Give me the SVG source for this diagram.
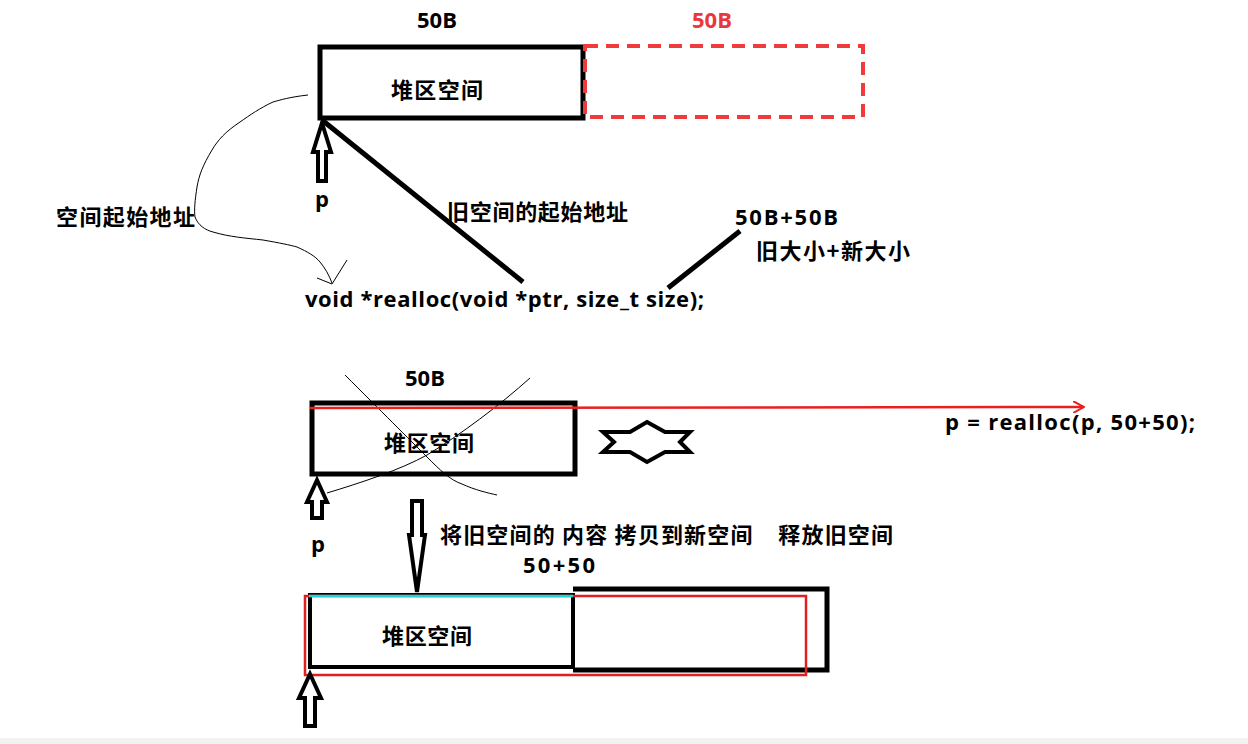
<svg xmlns="http://www.w3.org/2000/svg" width="1248" height="744" viewBox="0 0 1248 744">
<style>
.t{font-family:"Open Sans","Noto Sans CJK SC",sans-serif;font-weight:bold;font-size:22px;fill:#000}
.c{font-family:"Noto Sans CJK SC",sans-serif;font-weight:bold;font-size:22px;fill:#000;white-space:pre}
.red{fill:#e8383d}
.box{fill:none;stroke:#000;stroke-width:5}
.thin{fill:none;stroke:#000;stroke-width:1}
.hollow{fill:#fff;stroke:#000;stroke-width:4;stroke-linejoin:miter}
.thick{stroke:#000;stroke-width:5;fill:none}
</style>
<defs>
<marker id="ra" viewBox="0 0 12 12" refX="11" refY="6" markerWidth="12" markerHeight="12" markerUnits="userSpaceOnUse" orient="auto">
<path d="M0,0 L11,6 L0,12" fill="none" stroke="#e8201e" stroke-width="2"/>
</marker>
</defs>
<rect x="0" y="0" width="1248" height="744" fill="#fff"/>
<rect x="0" y="738" width="1248" height="6" fill="#f2f2f2"/>

<g id="top-block">
<text class="t" x="437" y="28" text-anchor="middle">50B</text>
<rect class="box" x="320" y="47" width="263" height="71"/>
<text class="c" x="437" y="98" text-anchor="middle" textLength="92">堆区空间</text>
</g>
<g id="top-extra">
<text class="t red" x="712" y="28" text-anchor="middle">50B</text>
<rect x="585" y="46" width="278" height="71" fill="none" stroke="#ef3b3b" stroke-width="4" stroke-dasharray="13,8"/>
</g>
<g id="top-pointer">
<polygon class="hollow" points="322,123 331,152 326,152 326,181 318,181 318,152 313,152"/>
<text class="t" x="322" y="207" text-anchor="middle">p</text>
</g>
<g id="labels-top">
<text class="c" x="56" y="225" textLength="139">空间起始地址</text>
<text class="c" x="447" y="220" textLength="181">旧空间的起始地址</text>
<text class="t" x="735" y="225" textLength="103">50B+50B</text>
<text class="c" x="756" y="259" textLength="154">旧大小+新大小</text>
<text class="t" x="305" y="307" textLength="399">void *realloc(void *ptr, size_t size);</text>
</g>

<g id="mid-block">
<text class="t" x="425" y="386" text-anchor="middle">50B</text>
<rect class="box" x="312" y="403" width="263" height="71"/>
<text class="c" x="429" y="451" text-anchor="middle" textLength="90">堆区空间</text>
<path class="thin" d="M345,375 C380,410 410,440 427,457 C440,470 450,480 462,484 C475,490 488,493 497,495"/>
<path class="thin" d="M530,378 C500,405 460,435 427,455 C400,470 360,483 327,493"/>
</g>
<g id="mid-pointer">
<polygon class="hollow" points="317,480 327,502 322,502 322,518 312,518 312,502 307,502"/>
<text class="t" x="318" y="552" text-anchor="middle">p</text>
</g>
<g id="star">
<polygon points="647,422 665,432 690,432 680,442 690,452 665,452 647,462 630,452 603,452 614,442 603,432 630,432" fill="#fff" stroke="#000" stroke-width="4"/>
</g>
<g id="code-call">
<text class="t" x="945" y="430" textLength="250">p = realloc(p, 50+50);</text>
</g>
<g id="copy-arrow">
<polygon class="hollow" points="412,501 422,501 422,535 425,535 417,592 409,535 412,535"/>
</g>
<g id="labels-bottom">
<text class="c" x="440" y="543" textLength="453" xml:space="preserve">将旧空间的 内容 拷贝到新空间    释放旧空间</text>
<text class="t" x="559" y="573" text-anchor="middle" textLength="72">50+50</text>
</g>
<g id="new-block">
<path d="M573,589 H827 V670 H573" fill="none" stroke="#000" stroke-width="5"/>
<rect x="310" y="595" width="263" height="72" fill="none" stroke="#000" stroke-width="4"/>
<rect x="305" y="596" width="501" height="79" fill="none" stroke="#e02020" stroke-width="2.5"/>
<line x1="309" y1="596" x2="573" y2="596" stroke="#22d3d3" stroke-width="2.5"/>
<text class="c" x="427" y="644" text-anchor="middle" textLength="90">堆区空间</text>
</g>
<g id="new-pointer">
<polygon class="hollow" points="310,674 321,698 315,698 315,726 305,726 305,698 299,698"/>
</g>

<g id="connectors">
<line class="thick" x1="322" y1="120" x2="523" y2="282"/>
<line class="thick" x1="668" y1="288" x2="740" y2="231"/>
<path class="thin" d="M308,95 C290,97 280,100 273,102 C260,108 250,115 240,122 C225,132 218,140 212,150 C203,165 199,175 197,187 C195,200 194,210 195,217 C198,225 205,230 213,232 C230,237 245,238 263,240 C280,243 290,245 297,247 C308,252 315,256 320,262 C325,268 329,275 332,283"/>
<path class="thin" d="M317,278 L332,284 L347,260"/>
<line x1="310" y1="408" x2="1084" y2="407" stroke="#e8201e" stroke-width="2.5" marker-end="url(#ra)"/>
</g>
</svg>
